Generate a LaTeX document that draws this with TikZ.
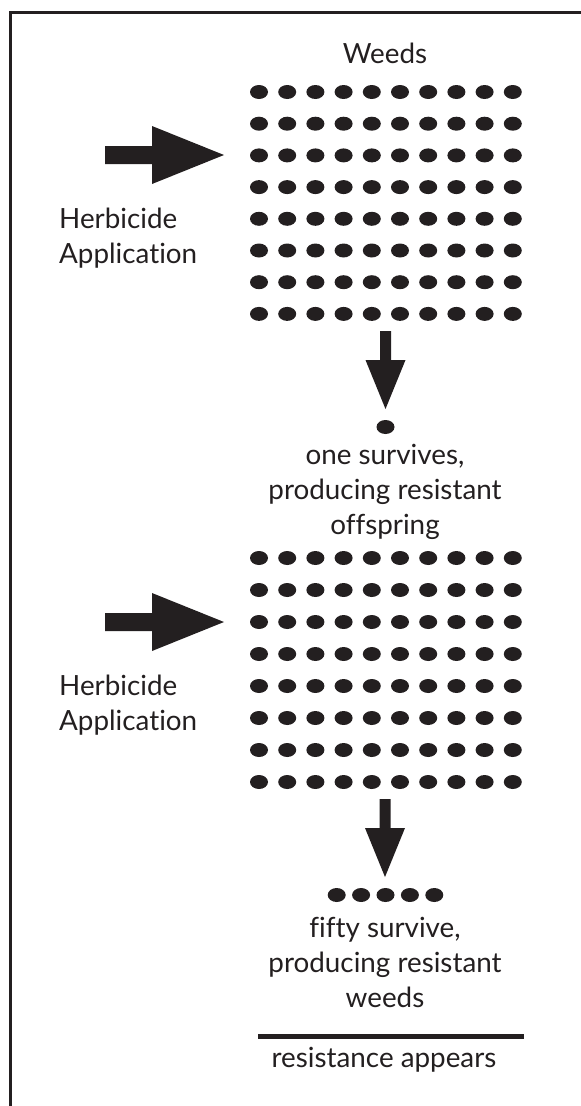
\documentclass[tikz,border=0pt]{standalone}
\usepackage{fontspec}
\setmainfont{Lato}[Ligatures=NoCommon]
\usetikzlibrary{positioning,shapes.geometric}
\definecolor{ink}{RGB}{35,31,32}
\tikzset{weed/.style={ellipse,fill=ink,inner sep=0pt,minimum width=18pt,minimum height=14pt}}
\tikzset{words/.style={text=ink,font=\fontsize{27.8}{35}\selectfont,inner sep=0pt}}
\tikzset{spray/.pic={\fill[ink] (0,0) -- (-72,-29) -- (-72,-9) -- (-119,-9) -- (-119,9) -- (-72,9) -- (-72,29) -- cycle;}}
\tikzset{drop/.pic={\fill[ink] (0,0) -- (-20,-49) -- (-5.5,-49) -- (-5.5,-78) -- (5.5,-78) -- (5.5,-49) -- (20,-49) -- cycle;}}

\begin{document}
\begin{tikzpicture}[x=1pt,y=-1pt]
    \useasboundingbox (0,0) rectangle (581,1106);
    \draw[ink,line width=3pt] (10,1106) -- (10,12.5) -- (581,12.5);
    % first population
    \node[words,anchor=base] (weeds) at (385,63) {Weeds};
    \foreach \r in {0,...,7}
        \foreach \c in {0,...,9}
            \node[weed] (a-\r-\c) at ({259+28.2*\c},{92+31.7*\r}) {};
    \coordinate (tip1) at (224,155);
        \pic at (tip1) {spray};
    \node[words,align=left,anchor=base west] (herb1) at (59,263) {Herbicide\\Application};
    \coordinate (drop1) at (385.5,409);
        \pic at (drop1) {drop};
    \node[weed] (one) at (385.5,427) {};
    \node[words,align=center,anchor=base] (text1) at (385,534) {one survives,\\producing resistant\\offspring};
    % second population
    \foreach \r in {0,...,7}
        \foreach \c in {0,...,9}
            \node[weed] (b-\r-\c) at ({259+28.2*\c},{558+32*\r}) {};
    \coordinate (tip2) at (224,622);
        \pic at (tip2) {spray};
    \node[words,align=left,anchor=base west] (herb2) at (59,730) {Herbicide\\Application};
    \coordinate (drop2) at (385,877);
        \pic at (drop2) {drop};
    \foreach \i in {0,...,4}
        \node[weed] (f-\i) at ({336.7+24.4*\i},895) {};
    \node[words,align=center,anchor=base] (text2) at (385,1007) {fifty survive,\\producing resistant\\weeds};
    \draw[ink,line width=5pt] (258,1036) -- (524,1036);
    \node[words,anchor=base] (result) at (384,1067) {resistance appears};
\end{tikzpicture}
\end{document}
